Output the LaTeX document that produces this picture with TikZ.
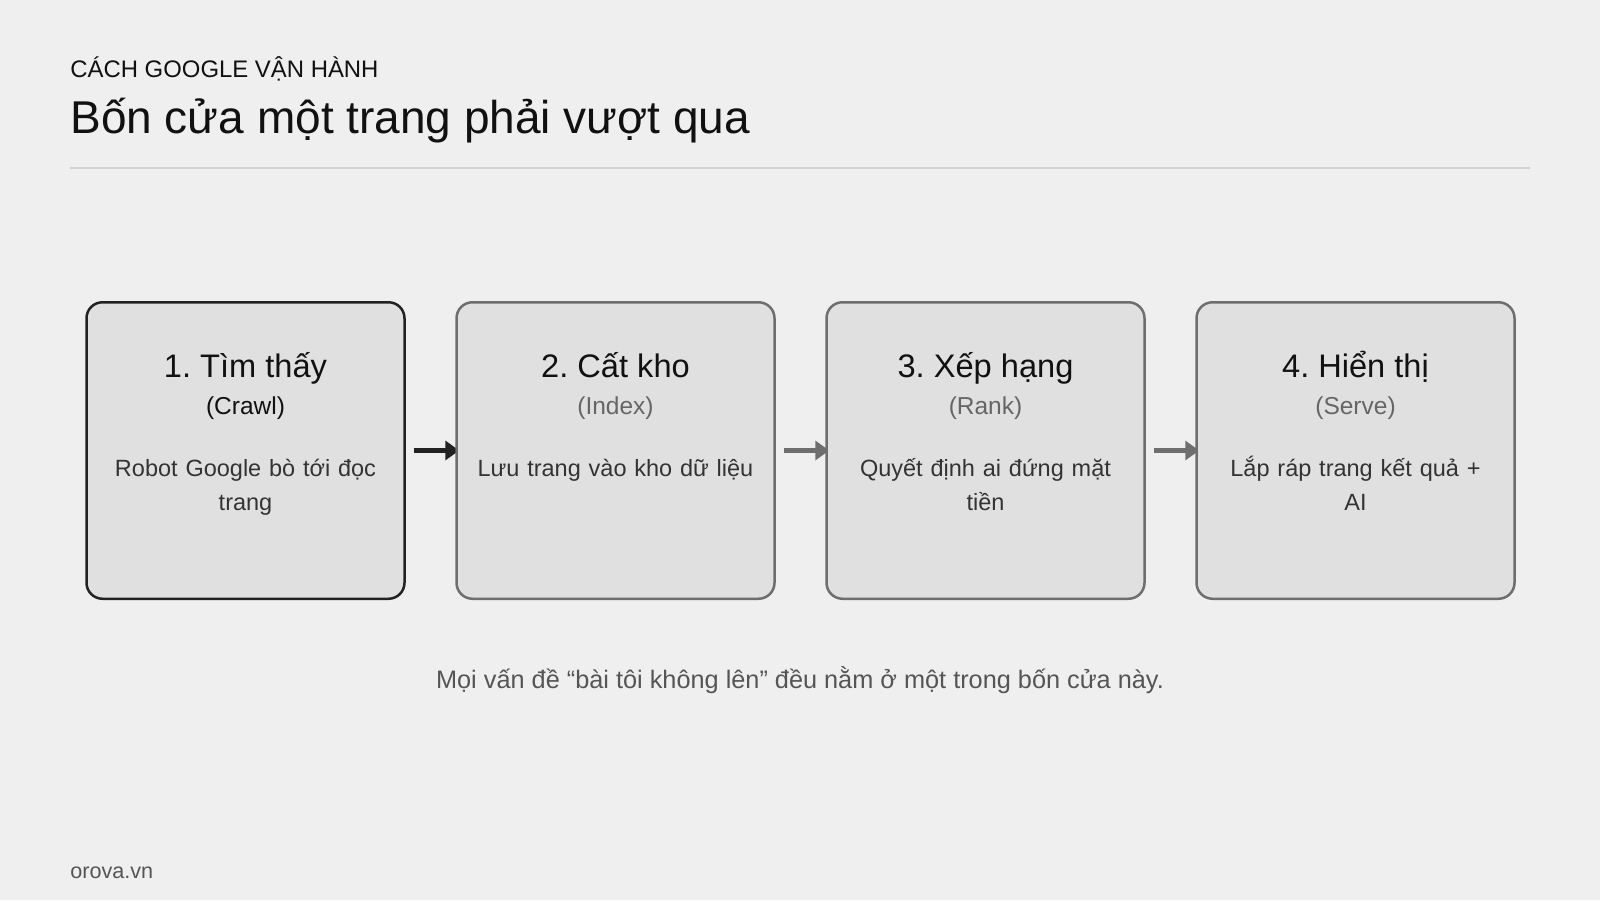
\documentclass[tikz,border=0pt]{standalone}
\usepackage{fontspec}
\setmainfont{Liberation Sans}
\usetikzlibrary{arrows.meta}
\definecolor{bgc}{HTML}{EFEFEF}
\definecolor{boxfill}{HTML}{E0E0E0}
\definecolor{edgedark}{HTML}{222222}
\definecolor{edgegray}{HTML}{6E6E6E}
\definecolor{rulec}{HTML}{D2D2D2}
\definecolor{headc}{HTML}{111111}
\definecolor{bodyc}{HTML}{333333}
\definecolor{parengray}{HTML}{666666}
\definecolor{capc}{HTML}{555555}
\pgfdeclarelayer{back}
\pgfdeclarelayer{arr}
\pgfsetlayers{back,arr,main}
\frenchspacing
\begin{document}
\frenchspacing
\begin{tikzpicture}[x=0.5pt,y=-0.5pt,
  stepbox/.style={fill=boxfill, line width=1.25pt, rounded corners=8pt,
    minimum width=159pt, minimum height=148.25pt, inner sep=0pt},
  boxtitle/.style={anchor=base, inner sep=0pt, text=headc,
    font=\fontsize{16.3}{19.5}\selectfont},
  parenlbl/.style={anchor=base, inner sep=0pt,
    font=\fontsize{12.25}{14.7}\selectfont},
  bodytxt/.style={anchor=base, inner sep=0pt, text=bodyc, text width=150pt,
    align=center, font=\fontsize{11.75}{17}\selectfont},
  flowarrow/.style={line width=2.25pt, -{Triangle[length=7pt,width=9.5pt]},
    shorten <=4pt, shorten >=-2pt}
]
\useasboundingbox (0,0) rectangle (1600,900);
\begin{pgfonlayer}{back}
  \fill[bgc] (0,0) rectangle (1600,900);
\end{pgfonlayer}

% header
\node[anchor=base west, inner sep=0pt, text=headc,
  font=\fontsize{11.95}{14}\selectfont] (eyebrow) at (70,77.5) {CÁCH GOOGLE VẬN HÀNH};
\node[anchor=base west, inner sep=0pt, text=headc,
  font=\fontsize{23}{27.6}\selectfont] (title) at (70,133.5) {Bốn cửa một trang phải vượt qua};
\coordinate (ruleL) at (70,168);
\coordinate (ruleR) at (1530,168);
\draw[rulec, line width=1pt] (ruleL) -- (ruleR);

% boxes
\node[stepbox, draw=edgedark] (b1) at (245.5,450.5) {};
\node[stepbox, draw=edgegray] (b2) at (615.5,450.5) {};
\node[stepbox, draw=edgegray] (b3) at (985.5,450.5) {};
\node[stepbox, draw=edgegray] (b4) at (1355.5,450.5) {};

% box texts
\node[boxtitle] (t1) at (245.5,377) {1. Tìm thấy};
\node[parenlbl, text=headc] (p1) at (245.5,414) {(Crawl)};
\node[bodytxt] (d1) at (245.5,476) {Robot Google bò tới đọc\\trang};

\node[boxtitle] (t2) at (615.5,377) {2. Cất kho};
\node[parenlbl, text=parengray] (p2) at (615.5,414) {(Index)};
\node[bodytxt] (d2) at (615.5,476) {Lưu trang vào kho dữ liệu};

\node[boxtitle] (t3) at (985.5,377) {3. Xếp hạng};
\node[parenlbl, text=parengray] (p3) at (985.5,414) {(Rank)};
\node[bodytxt] (d3) at (985.5,476) {Quyết định ai đứng mặt\\tiền};

\node[boxtitle] (t4) at (1355.5,377) {4. Hiển thị};
\node[parenlbl, text=parengray] (p4) at (1355.5,414) {(Serve)};
\node[bodytxt] (d4) at (1355.5,476) {Lắp ráp trang kết quả +\\AI};

% connectors
\begin{pgfonlayer}{arr}
  \draw[flowarrow, edgedark] (b1.east) -- (b2.west);
  \draw[flowarrow, edgegray] (b2.east) -- (b3.west);
  \draw[flowarrow, edgegray] (b3.east) -- (b4.west);
\end{pgfonlayer}

% caption and footer
\node[anchor=base, inner sep=0pt, text=capc,
  font=\fontsize{12.65}{15}\selectfont] (caption) at (800,688)
  {Mọi vấn đề “bài tôi không lên” đều nằm ở một trong bốn cửa này.};
\node[anchor=base west, inner sep=0pt, text=capc,
  font=\fontsize{10.8}{13}\selectfont] (footer) at (70,878) {orova.vn};
\end{tikzpicture}
\end{document}
